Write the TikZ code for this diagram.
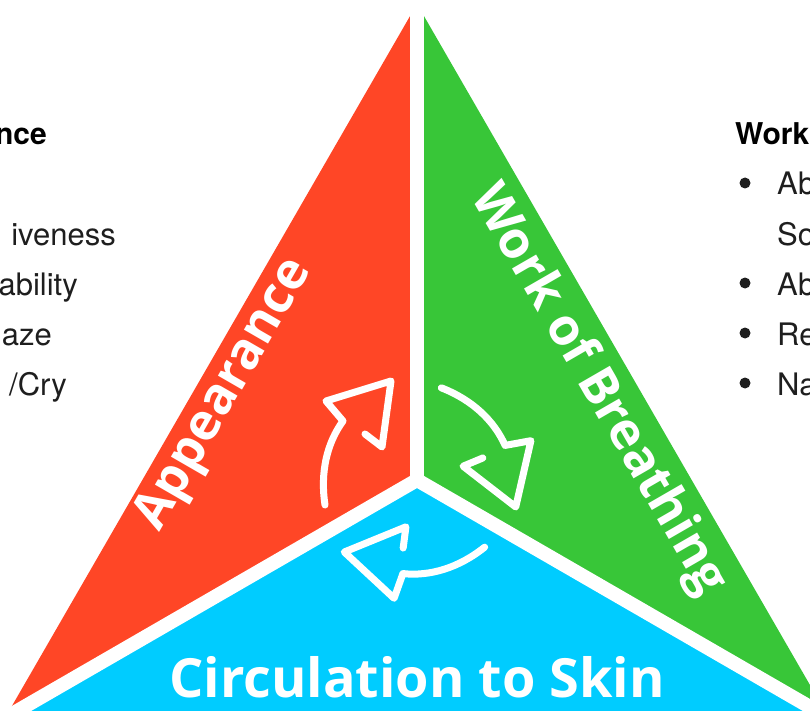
\documentclass[tikz,border=0pt]{standalone}
\usepackage{fontspec}
\setmainfont{TeX Gyre Heros}
\newfontfamily\labelfont{Open Sans}
\usetikzlibrary{calc}
\definecolor{pred}{HTML}{FF4626}
\definecolor{pgreen}{HTML}{38C638}
\definecolor{pblue}{HTML}{00CCFF}
\definecolor{ink}{HTML}{1E1E1E}
\begin{document}
\begin{tikzpicture}[x=1pt,y=-1pt,
  divider/.style={white, line width=14pt, line cap=round},
  cycarrow/.style={white, line width=7pt, line cap=round, line join=round},
  tri/.style={font=\labelfont\bfseries\fontsize{51}{60}\selectfont, text=white, inner sep=0pt},
  bottomlabel/.style={font=\labelfont\bfseries\fontsize{54}{64}\selectfont, text=white, inner sep=0pt},
  listtext/.style={font=\fontsize{31}{36}\selectfont, text=ink, inner sep=0pt},
  headtext/.style={font=\bfseries\fontsize{30}{36}\selectfont, text=black, inner sep=0pt},
  dot/.style={circle, fill=ink, inner sep=0pt, minimum size=11pt}]
\useasboundingbox (0,0) rectangle (810,711);
\clip (0,0) rectangle (810,711);
\coordinate (C) at (417,480);
\coordinate (A) at (417,4);
\coordinate (L) at (5,718);
\coordinate (R) at (829,718);
% segments
\fill[pred] (A) -- (C) -- (L) -- cycle;
\fill[pgreen] (A) -- (C) -- (R) -- cycle;
\fill[pblue] (L) -- (C) -- (R) -- cycle;
% dividers
\draw[divider] (C) -- (A);
\draw[divider] (C) -- ($(C)!1.2!(L)$);
\draw[divider] (C) -- ($(C)!1.2!(R)$);
% cycle arrows
\draw[cycarrow] (325,505) .. controls (320,472) and (327,443) .. (343,421) -- (326,401) -- (391,381) -- (382,447) -- (365,434);
\begin{scope}[rotate around={-120:(C)}]
\draw[cycarrow] (325,505) .. controls (320,472) and (327,443) .. (343,421) -- (326,401) -- (391,381) -- (382,447) -- (365,434);
\end{scope}
\begin{scope}[rotate around={120:(C)}]
\draw[cycarrow] (325,505) .. controls (320,472) and (327,443) .. (343,421) -- (326,401) -- (391,381) -- (382,447) -- (365,434);
\end{scope}
% segment labels
\node[tri, rotate=60] (app) at (225,395) {Appearance};
\node[tri, rotate=-60] (wob) at (598,390) {Work of Breathing};
\node[bottomlabel, anchor=base] (circ) at (417,697) {Circulation to Skin};
% left list (cropped)
\node[headtext, anchor=base east] (lh) at (47,145) {nce};
\node[listtext, anchor=base east] (l2) at (116,245) {iveness};
\node[listtext, anchor=base east] (l3) at (78,295) {ability};
\node[listtext, anchor=base east] (l4) at (52,345) {aze};
\node[listtext, anchor=base east] (l5) at (67,395) {/Cry};
% right list (cropped)
\node[headtext, anchor=base west] (rh) at (735,145) {Work};
\node[dot] (b1) at (745,183) {};
\node[listtext, anchor=base west] (r1) at (777,195) {Ab};
\node[listtext, anchor=base west] (r1b) at (777,245) {So};
\node[dot] (b2) at (745,283) {};
\node[listtext, anchor=base west] (r2) at (777,295) {Ab};
\node[dot] (b3) at (745,333) {};
\node[listtext, anchor=base west] (r3) at (777,345) {Re};
\node[dot] (b4) at (745,383) {};
\node[listtext, anchor=base west] (r4) at (777,395) {Na};
\end{tikzpicture}
\end{document}
